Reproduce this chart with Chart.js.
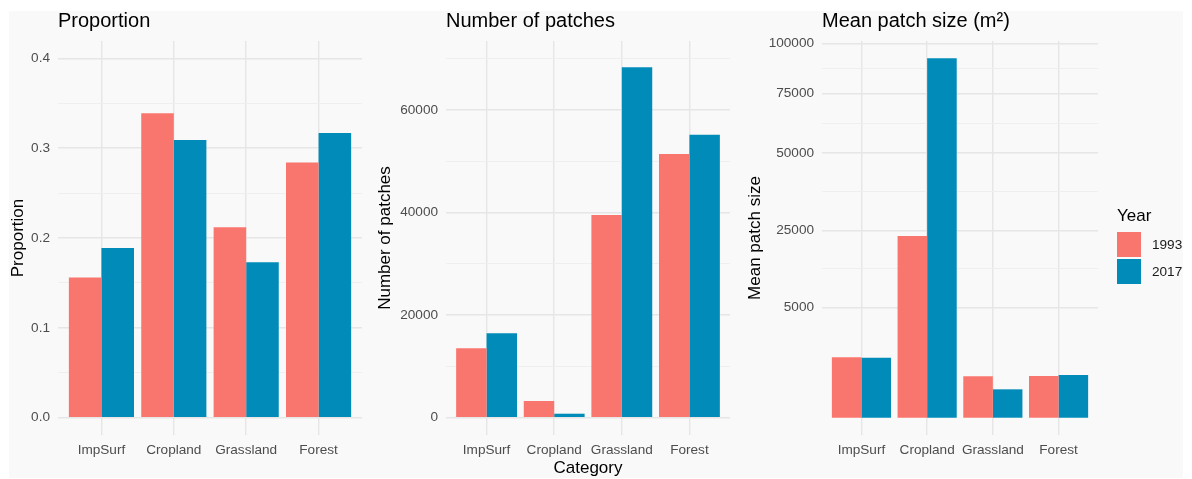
<!DOCTYPE html>
<html><head><meta charset="utf-8">
<script src="https://cdn.jsdelivr.net/npm/chart.js@4.4.1/dist/chart.umd.min.js"></script>
<style>
html,body{margin:0;padding:0;background:#fff;}
#wrap{position:relative;width:1192px;height:479px;overflow:hidden;background:#fff;}
#bg{position:absolute;left:9px;top:11px;width:1174px;height:467px;background:#F9F9F9;}
canvas{position:absolute;top:0;}
</style></head><body>
<div id="wrap"><div id="bg"></div>
<canvas id="c1" width="370" height="479" style="left:0;width:370px;height:479px"></canvas>
<canvas id="c2" width="370" height="479" style="left:370px;width:370px;height:479px"></canvas>
<canvas id="c3" width="452" height="479" style="left:740px;width:452px;height:479px"></canvas>
</div>
<script>
// ---- data ----
const categories = ["ImpSurf", "Cropland", "Grassland", "Forest"];
const years = ["1993", "2017"];
const proportion1993 = [0.156, 0.339, 0.212, 0.284];
const proportion2017 = [0.189, 0.309, 0.173, 0.317];
const patches1993 = [13530, 3260, 39530, 51420];
const patches2017 = [16460, 780, 68330, 55190];
const meanSize1993 = [2600, 23560, 1220, 1240];
const meanSize2017 = [2570, 92130, 575, 1300];
const proportionTicks = [0, 0.1, 0.2, 0.3, 0.4];
const proportionMinor = [0.05, 0.15, 0.25, 0.35];
const patchesTicks = [0, 20000, 40000, 60000];
const patchesMinor = [10000, 30000, 50000, 70000];
// lowest break sits where the reference draws its "5000" label
const meanSizeTicks = [8690, 25000, 50000, 75000, 100000];
const meanSizeTickLabels = ["5000", "25000", "50000", "75000", "100000"];
const meanSizeMinor = [15780, 36430, 61860, 87050];

// ---- style ----
const FONT = '"Liberation Sans", Arial, sans-serif';
const C1993 = '#F8766D';
const C2017 = '#008BB8';
const MAJOR = '#E6E6E6', MINOR = '#EFEFEF';

// sqrt scale
const tf = v => Math.sign(v) * Math.sqrt(Math.abs(v));
const itf = t => Math.sign(t) * t * t;
class SqrtScale extends Chart.LinearScale {
  getPixelForValue(value) {
    const a = tf(this.min), b = tf(this.max);
    return this.getPixelForDecimal((tf(value) - a) / (b - a));
  }
  getValueForPixel(pixel) {
    const a = tf(this.min), b = tf(this.max);
    return itf(a + this.getDecimalForPixel(pixel) * (b - a));
  }
}
SqrtScale.id = 'sqrt';
SqrtScale.defaults = Chart.LinearScale.defaults;
Chart.register(SqrtScale);

function makeChart(id, cfg) {
  const majors = cfg.majors, minors = cfg.minors;
  const labels = cfg.labels || majors.map(String);
  const all = majors.concat(minors).sort((a, b) => a - b);
  const isMajor = v => majors.indexOf(v) >= 0;
  const plugins = [];
  if (cfg.legend) plugins.push(legendPlugin);
  return new Chart(document.getElementById(id), {
    type: 'bar',
    data: {
      datasets: [
        { label: years[0], backgroundColor: C1993, borderWidth: 0,
          data: cfg.v1.map((v, i) => ({ x: i + 1, y: v })) },
        { label: years[1], backgroundColor: C2017, borderWidth: 0,
          data: cfg.v2.map((v, i) => ({ x: i + 1, y: v })) }
      ]
    },
    plugins: plugins,
    options: {
      responsive: false,
      animation: false,
      categoryPercentage: 0.9,
      barPercentage: 1.0,
      layout: { padding: { top: 9.5, left: 0, right: cfg.padRight, bottom: 0 } },
      plugins: {
        legend: { display: false },
        tooltip: { enabled: false },
        title: {
          display: true, text: cfg.title, align: 'start', fullSize: false,
          color: '#000', font: { family: FONT, size: 20, weight: 'normal' },
          padding: { top: 0, bottom: 7.5 }
        }
      },
      scales: {
        x: {
          type: 'linear', min: 0.4, max: 4.6, offset: false,
          afterFit: s => { s.height = 44; },
          afterBuildTicks: s => { s.ticks = categories.map((c, i) => ({ value: i + 1 })); },
          grid: { offset: false, drawTicks: false, color: MAJOR, lineWidth: 1.4 },
          border: { display: false },
          ticks: {
            autoSkip: false, maxRotation: 0, padding: 7, color: '#4D4D4D',
            font: { family: FONT, size: 13.6 },
            callback: v => categories[v - 1]
          },
          title: {
            display: !!cfg.xTitle, text: cfg.xTitle || '', color: '#000',
            font: { family: FONT, size: 17 }, padding: { top: 0, bottom: 0.8 }
          }
        },
        y: {
          type: cfg.yType, min: cfg.min, max: cfg.max, bounds: 'data',
          afterFit: s => { s.width = cfg.yWidth; },
          afterBuildTicks: s => { s.ticks = all.map(v => ({ value: v })); },
          grid: {
            drawTicks: false,
            color: c => isMajor(c.tick.value) ? MAJOR : MINOR,
            lineWidth: c => isMajor(c.tick.value) ? 1.4 : 1
          },
          border: { display: false },
          ticks: {
            autoSkip: false, padding: 8, color: '#4D4D4D',
            font: { family: FONT, size: 13.6 },
            callback: v => { const k = majors.indexOf(v); return k >= 0 ? labels[k] : ''; }
          },
          title: {
            display: true, text: cfg.yTitle, color: '#000',
            font: { family: FONT, size: 17 }, padding: { top: cfg.yTitlePad, bottom: 0 }
          }
        }
      }
    }
  });
}

const legendPlugin = {
  id: 'yearLegend',
  afterDraw(chart) {
    const ctx = chart.ctx;
    ctx.save();
    ctx.fillStyle = '#000';
    ctx.font = '17px ' + FONT;
    ctx.textBaseline = 'alphabetic';
    ctx.textAlign = 'left';
    ctx.fillText('Year', 377, 220.7);
    chart.data.datasets.forEach((ds, i) => {
      const y = 232 + i * 27;
      ctx.fillStyle = ds.backgroundColor;
      ctx.fillRect(377, y, 24, 25);
      ctx.fillStyle = '#1a1a1a';
      ctx.font = '13.6px ' + FONT;
      ctx.textBaseline = 'middle';
      ctx.fillText(ds.label, 412, y + 13);
    });
    ctx.restore();
  }
};

makeChart('c1', {
  title: 'Proportion', yTitle: 'Proportion', yTitlePad: 7.8, yWidth: 58, padRight: 8,
  yType: 'linear', min: -0.0193, max: 0.4193,
  majors: proportionTicks, minors: proportionMinor,
  labels: proportionTicks.map(v => v.toFixed(1)),
  v1: proportion1993, v2: proportion2017
});
makeChart('c2', {
  title: 'Number of patches', yTitle: 'Number of patches', yTitlePad: 4.8, yWidth: 76, padRight: 10,
  xTitle: 'Category',
  yType: 'linear', min: -3370, max: 73450,
  majors: patchesTicks, minors: patchesMinor,
  v1: patches1993, v2: patches2017
});
makeChart('c3', {
  title: 'Mean patch size (m²)', yTitle: 'Mean patch size', yTitlePad: 4.8, yWidth: 82, padRight: 94,
  yType: 'sqrt', min: -213, max: 101250,
  majors: meanSizeTicks, minors: meanSizeMinor, labels: meanSizeTickLabels,
  v1: meanSize1993, v2: meanSize2017, legend: true
});
</script>
</body></html>
